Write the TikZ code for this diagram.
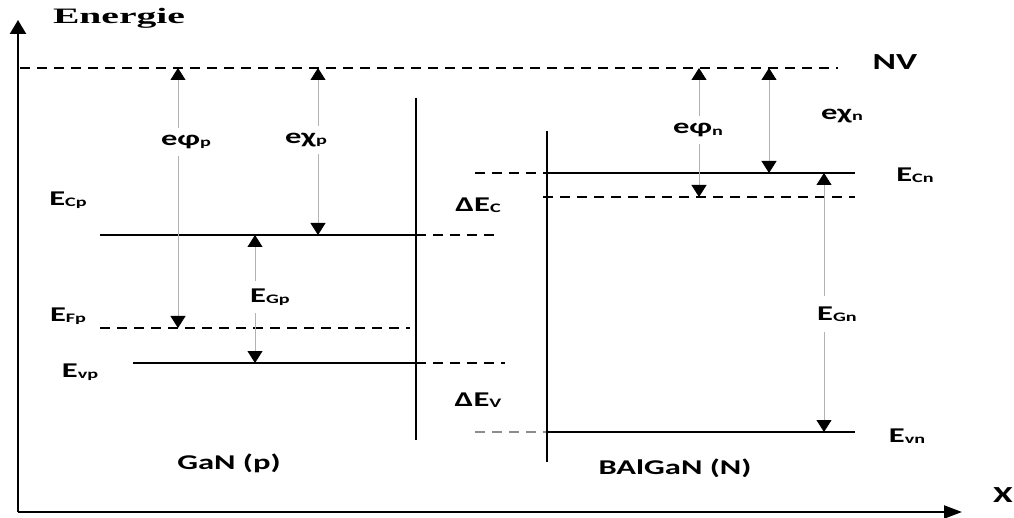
\documentclass[tikz,border=0pt]{standalone}
\usepackage{fontspec}
\usepackage{tikz}
\usetikzlibrary{arrows.meta}
\newfontfamily\labfont[FakeStretch=1.55]{Carlito}
\newfontfamily\titfont[FakeStretch=1.8]{Liberation Serif}
% level name with its subscript
\newcommand{\lv}[2]{#1\raisebox{-1.5pt}{\fontsize{13}{13}\selectfont #2}}

\begin{document}
\begin{tikzpicture}[x=1pt,y=-1pt,
  lvl/.style={line width=2.8pt},
  lvldash/.style={line width=2pt, dash pattern=on 10pt off 7pt},
  wall/.style={line width=2pt},
  gap/.style={draw=black!30, line width=0.8pt,
    {Triangle[length=12pt,width=15pt,color=black]}-{Triangle[length=12pt,width=15pt,color=black]}},
  lab/.style={font=\labfont\bfseries\fontsize{21}{22}\selectfont, inner sep=1pt},
  cut/.style={lab, fill=white, inner sep=7pt}]
  \useasboundingbox (0,0) rectangle (1014,518);

  % axes
  \coordinate (O) at (18,512);
  \coordinate (ytop) at (18,20);
  \coordinate (xend) at (962,512);
  \draw[line width=2.2pt, -{Triangle[length=14pt,width=16pt]}] (O) -- (ytop);
  \draw[line width=2.2pt, -{Triangle[length=18pt,width=13pt]}] (O) -- (xend);
  \node[font=\titfont\bfseries\fontsize{22}{23}\selectfont] (energie) at (119,18) {Energie};
  \node[lab, font=\labfont\bfseries\fontsize{23}{24}\selectfont] (xlab) at (1003,495) {X};

  % vacuum level
  \coordinate (nv0) at (20,68);
  \coordinate (nv1) at (838,68);
  \draw[lvldash] (nv0) -- (nv1);
  \node[lab, font=\labfont\bfseries\fontsize{23}{24}\selectfont] (nv) at (895,62) {NV};

  % GaN (p) side
  \coordinate (ecp0) at (100,235);  \coordinate (ecp1) at (416,235);  \coordinate (ecp2) at (500,235);
  \coordinate (efp0) at (100,328);  \coordinate (efp1) at (410,328);
  \coordinate (evp0) at (133,363);  \coordinate (evp1) at (416,363);  \coordinate (evp2) at (505,363);
  \coordinate (wp0) at (416,98);    \coordinate (wp1) at (416,440);
  \draw[lvl] (ecp0) -- (ecp1);
  \draw[lvldash] (ecp1) -- (ecp2);
  \draw[lvldash] (efp0) -- (efp1);
  \draw[lvl] (evp0) -- (evp1);
  \draw[lvldash] (evp1) -- (evp2);
  \draw[wall] (wp0) -- (wp1);

  % BAlGaN (N) side
  \coordinate (ecn0) at (475,173);  \coordinate (ecn1) at (547,173);  \coordinate (ecn2) at (855,173);
  \coordinate (efn0) at (543,197);  \coordinate (efn1) at (855,197);
  \coordinate (evn0) at (475,432);  \coordinate (evn1) at (547,432);  \coordinate (evn2) at (855,432);
  \coordinate (wn0) at (547,131);   \coordinate (wn1) at (547,462);
  \draw[lvldash] (ecn0) -- (ecn1);
  \draw[lvl] (ecn1) -- (ecn2);
  \draw[lvldash] (efn0) -- (efn1);
  \draw[lvldash, black!45] (evn0) -- (evn1);
  \draw[lvl] (evn1) -- (evn2);
  \draw[wall] (wn0) -- (wn1);

  % energy gaps
  \draw[gap] (178,68) coordinate (phip0) -- (178,328) coordinate (phip1);
  \draw[gap] (318,68) coordinate (chip0) -- (318,235) coordinate (chip1);
  \draw[gap] (255,235) coordinate (egp0) -- (255,363) coordinate (egp1);
  \draw[gap] (699,68) coordinate (phin0) -- (699,197) coordinate (phin1);
  \draw[gap] (769,68) coordinate (chin0) -- (769,173) coordinate (chin1);
  \draw[gap] (824,173) coordinate (egn0) -- (824,432) coordinate (egn1);

  % labels
  \node[cut] (lphip) at (186,142) {\lv{eφ}{p}};
  \node[cut] (lchip) at (306,140) {\lv{eχ}{p}};
  \node[cut] (legp) at (270,297) {\lv{E}{Gp}};
  \node[cut] (lphin) at (698,130) {\lv{eφ}{n}};
  \node[lab] (lchin) at (842,116) {\lv{eχ}{n}};
  \node[cut, inner sep=10pt] (legn) at (837,314) {\lv{E}{Gn}};
  \node[lab] (lecp) at (68,200) {\lv{E}{Cp}};
  \node[lab] (lefp) at (68,316) {\lv{E}{Fp}};
  \node[lab] (levp) at (80,372) {\lv{E}{vp}};
  \node[lab] (ldec) at (478,205) {\lv{ΔE}{C}};
  \node[lab] (ldev) at (478,400) {\lv{ΔE}{V}};
  \node[lab] (lecn) at (915,175) {\lv{E}{Cn}};
  \node[lab] (levn) at (907,436) {\lv{E}{vn}};
  \node[lab] (gan) at (229,463) {GaN (p)};
  \node[lab] (balgan) at (675,468) {BAlGaN (N)};
\end{tikzpicture}
\end{document}
